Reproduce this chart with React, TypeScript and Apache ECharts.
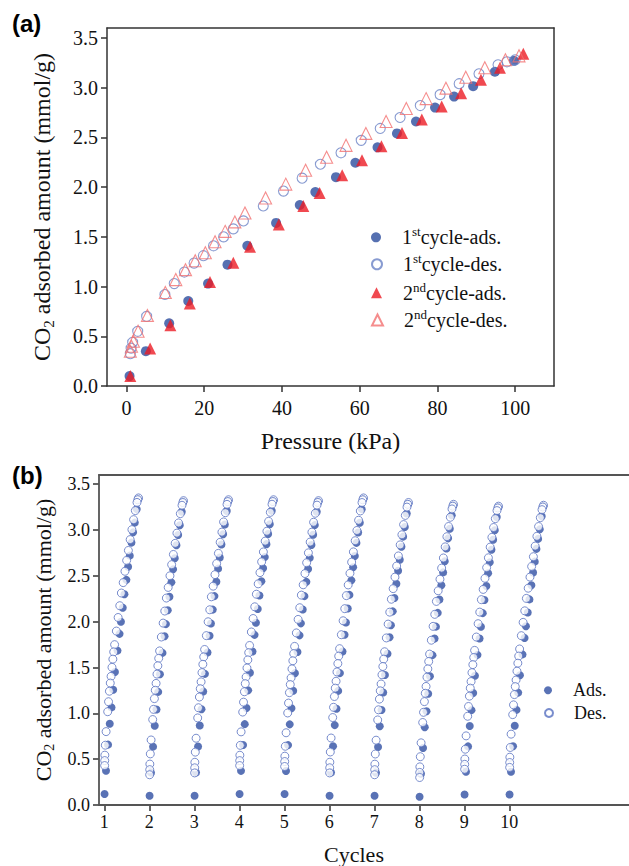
import React, { useEffect, useRef } from "react";
import * as echarts from "echarts";

// ---------- Panel (a): CO2 isotherms ----------
const ads1Pressure = [0.8, 5.0, 11.0, 15.9, 21.0, 26.0, 31.1, 38.5, 44.6, 48.6, 53.9, 58.9, 64.6, 69.6, 74.5, 79.4, 84.3, 89.2, 94.8, 99.7];
const ads1Amount = [0.10, 0.35, 0.63, 0.855, 1.03, 1.22, 1.41, 1.64, 1.82, 1.95, 2.10, 2.245, 2.40, 2.54, 2.66, 2.80, 2.91, 3.015, 3.16, 3.27];

const des1Pressure = [100.0, 97.9, 95.6, 90.7, 85.6, 80.7, 75.6, 70.4, 65.3, 60.4, 55.2, 49.9, 45.2, 40.4, 35.2, 30.1, 27.5, 25.0, 22.4, 19.8, 17.4, 14.9, 12.3, 9.9, 5.2, 2.9, 1.6, 1.2, 1.0];
const des1Amount = [3.28, 3.26, 3.23, 3.14, 3.04, 2.93, 2.82, 2.70, 2.59, 2.47, 2.345, 2.23, 2.09, 1.96, 1.81, 1.66, 1.58, 1.50, 1.41, 1.31, 1.236, 1.146, 1.03, 0.92, 0.70, 0.55, 0.44, 0.38, 0.325];

const ads2Pressure = [1.0, 6.1, 11.3, 16.3, 21.5, 27.5, 31.8, 39.2, 45.5, 49.7, 55.5, 60.6, 65.6, 70.9, 76.0, 81.1, 86.1, 91.2, 96.1, 102.1];
const ads2Amount = [0.10, 0.376, 0.61, 0.83, 1.045, 1.24, 1.40, 1.625, 1.81, 1.94, 2.12, 2.27, 2.41, 2.545, 2.68, 2.81, 2.945, 3.08, 3.20, 3.34];

const des2Pressure = [101.0, 97.5, 92.2, 87.3, 82.2, 77.1, 72.0, 66.8, 61.6, 56.5, 51.5, 46.1, 41.0, 35.8, 30.5, 27.9, 25.4, 22.8, 20.3, 17.7, 15.2, 12.7, 10.0, 5.4, 3.0, 1.8, 1.3, 1.0];
const des2Amount = [3.32, 3.28, 3.20, 3.105, 2.995, 2.89, 2.79, 2.66, 2.54, 2.42, 2.30, 2.17, 2.03, 1.89, 1.74, 1.65, 1.555, 1.45, 1.34, 1.26, 1.17, 1.07, 0.94, 0.71, 0.55, 0.45, 0.40, 0.35];

const pressureTicks = [0, 20, 40, 60, 80, 100];
const amountTicks = [0, 0.5, 1.0, 1.5, 2.0, 2.5, 3.0, 3.5];

// ---------- Panel (b): 10 adsorption/desorption cycles ----------
const cycles = [1, 2, 3, 4, 5, 6, 7, 8, 9, 10];
// values read per cycle: highest (desorption start), first adsorption point, lowest desorption point
const cycleDesTop = [3.35, 3.32, 3.33, 3.33, 3.32, 3.35, 3.30, 3.28, 3.26, 3.27];
const cycleAdsFirst = [0.12, 0.10, 0.10, 0.12, 0.12, 0.10, 0.10, 0.09, 0.115, 0.115];
const cycleDesLow = [0.43, 0.33, 0.35, 0.43, 0.42, 0.35, 0.33, 0.30, 0.39, 0.41];
const cycleWidthPerKPa = 0.0076; // fraction of one cycle spanned per kPa of pressure

const BLUE = "#2C4C9E";
const BLUE_OPEN = "#6A82C6";
const RED = "#EC1C24";
const RED_OPEN = "#F27070";
const B_BLUE = "#2F4FA2";
const B_OPEN = "#5870C0";
const SERIF = "Liberation Serif";
const INK = "#111111";

const zip = (xs: number[], ys: number[]) => xs.map((x, i) => [x, ys[i]]);

function cycleAdsPoints(): number[][] {
  const out: number[][] = [];
  const a0 = ads1Amount[0];
  const aMax = des1Amount[0];
  cycles.forEach((c, ci) => {
    const first = cycleAdsFirst[ci];
    const top = cycleDesTop[ci];
    ads1Pressure.forEach((p, i) => {
      out.push([c + p * cycleWidthPerKPa, first + ((ads1Amount[i] - a0) * (top - first)) / (aMax - a0)]);
    });
  });
  return out;
}

function cycleDesPoints(): number[][] {
  const out: number[][] = [];
  const dMin = des1Amount[des1Amount.length - 1];
  const dMax = des1Amount[0];
  cycles.forEach((c, ci) => {
    const low = cycleDesLow[ci];
    const top = cycleDesTop[ci];
    des1Pressure.forEach((p, i) => {
      out.push([c + p * cycleWidthPerKPa, low + ((des1Amount[i] - dMin) * (top - low)) / (dMax - dMin)]);
    });
  });
  return out;
}

const legendRich = {
  n: { fontSize: 20, fontFamily: SERIF, color: INK, lineHeight: 24 },
  s: { fontSize: 13, fontFamily: SERIF, color: INK, verticalAlign: "top" },
};

const legendLabels: Record<string, string> = {
  "1stcycle-ads.": "{n|1}{s|st}{n|cycle-ads.}",
  "1stcycle-des.": "{n|1}{s|st}{n|cycle-des.}",
  "2ndcycle-ads.": "{n|2}{s|nd}{n|cycle-ads.}",
  "2ndcycle-des.": "{n|2}{s|nd}{n|cycle-des.}",
  "Ads.": "{m|Ads.}",
  "Des.": "{m|Des.}",
};

const axisLineStyleA = { color: "#333", width: 1.5 };
const axisLineStyleB = { color: "#555", width: 1.8 };

const yName = "{a|CO}{b|2}{a| adsorbed amount (mmol/g)}";

function serifLabel(size: number, digits: number | null) {
  return {
    fontSize: size,
    color: INK,
    fontFamily: SERIF,
    formatter: (v: number) => `{t|${digits === null ? String(v) : v.toFixed(digits)}}`,
    rich: { t: { fontSize: size, color: INK, fontFamily: SERIF } },
  };
}

function buildOption() {
  const legendA = ["1stcycle-ads.", "1stcycle-des.", "2ndcycle-ads.", "2ndcycle-des."];
  const legendRowsA = [237.3, 264.3, 292.7, 320];
  const legends: any[] = legendA.map((name, i) => ({
    data: [name],
    orient: "vertical",
    left: 371,
    top: legendRowsA[i] - 12,
    padding: 0,
    itemWidth: i < 2 ? 10 : 11,
    itemHeight: i < 2 ? 10 : 11,
    selectedMode: false,
    formatter: (n: string) => legendLabels[n],
    textStyle: { fontFamily: SERIF, fontSize: 20, color: INK, padding: [0, 0, 0, 16], rich: legendRich },
  }));
  const legendB = ["Ads.", "Des."];
  const legendRowsB = [692.3, 715];
  legendB.forEach((name, i) => {
    legends.push({
      data: [name],
      orient: "vertical",
      left: 544,
      top: legendRowsB[i] - 11,
      padding: 0,
      itemWidth: 8,
      itemHeight: 8,
      selectedMode: false,
      formatter: (n: string) => legendLabels[n],
      textStyle: {
        fontFamily: SERIF, fontSize: 18, color: INK, padding: [0, 0, 0, 16],
        rich: { m: { fontFamily: SERIF, fontSize: 18, color: INK, lineHeight: 22 } },
      },
    });
  });

  return {
    animation: false,
    backgroundColor: "#ffffff",
    textStyle: { fontFamily: SERIF },
    grid: [
      { left: 107, top: 28, width: 447, height: 358 },
      { left: 99, top: 475, right: 0, height: 332 },
    ],
    legend: legends,
    graphic: [
      { type: "text", left: 12, top: 11, style: { text: "(a)", fontFamily: "Liberation Sans", fontWeight: "bold", fontSize: 24, fill: "#000" } },
      { type: "text", left: 12, top: 463, style: { text: "(b)", fontFamily: "Liberation Sans", fontWeight: "bold", fontSize: 24, fill: "#000" } },
    ],
    xAxis: [
      {
        gridIndex: 0, type: "value", min: -5, max: 110, position: "bottom",
        axisLine: { onZero: false, lineStyle: axisLineStyleA },
        axisTick: { length: 6, customValues: pressureTicks, lineStyle: axisLineStyleA },
        axisLabel: { customValues: pressureTicks, margin: 12, ...serifLabel(20, null) },
        splitLine: { show: false },
        name: "{p|Pressure (kPa)}", nameLocation: "middle", nameGap: 43,
        nameTextStyle: { fontSize: 24, color: INK, fontFamily: SERIF, rich: { p: { fontSize: 24, color: INK, fontFamily: SERIF } } },
      },
      {
        gridIndex: 0, type: "value", min: -5, max: 110, position: "top",
        axisLine: { onZero: false, lineStyle: axisLineStyleA },
        axisTick: { show: false }, axisLabel: { show: false }, splitLine: { show: false },
      },
      {
        gridIndex: 1, type: "value", min: 0.882, max: 12.66, position: "bottom",
        axisLine: { onZero: false, lineStyle: axisLineStyleB },
        axisTick: { length: 6, customValues: cycles, lineStyle: axisLineStyleB },
        axisLabel: { customValues: cycles, margin: 8, ...serifLabel(18, null) },
        splitLine: { show: false },
        name: "{p|Cycles}", nameLocation: "middle", nameGap: 38,
        nameTextStyle: {
          fontSize: 22, color: INK, fontFamily: SERIF, padding: [0, 20, 0, 0],
          rich: { p: { fontSize: 22, color: INK, fontFamily: SERIF } },
        },
      },
      {
        gridIndex: 1, type: "value", min: 0.882, max: 12.66, position: "top",
        axisLine: { onZero: false, lineStyle: axisLineStyleB },
        axisTick: { show: false }, axisLabel: { show: false }, splitLine: { show: false },
      },
    ],
    yAxis: [
      {
        gridIndex: 0, type: "value", min: 0, max: 3.6, position: "left",
        axisLine: { show: true, onZero: false, lineStyle: axisLineStyleA },
        axisTick: { show: true, length: 6, customValues: amountTicks, lineStyle: axisLineStyleA },
        axisLabel: { customValues: amountTicks, margin: 9, ...serifLabel(20, 1) },
        splitLine: { show: false },
        name: yName, nameLocation: "middle", nameGap: 51,
        nameTextStyle: {
          fontSize: 24, color: INK, fontFamily: SERIF,
          rich: {
            a: { fontSize: 24, fontFamily: SERIF, color: INK, lineHeight: 28 },
            b: { fontSize: 15, fontFamily: SERIF, color: INK, verticalAlign: "bottom" },
          },
        },
      },
      {
        gridIndex: 0, type: "value", min: 0, max: 3.6, position: "right",
        axisLine: { show: true, onZero: false, lineStyle: axisLineStyleA },
        axisTick: { show: false }, axisLabel: { show: false }, splitLine: { show: false },
      },
      {
        gridIndex: 1, type: "value", min: 0, max: 3.6, position: "left",
        axisLine: { show: true, onZero: false, lineStyle: axisLineStyleB },
        axisTick: { show: true, length: 6, customValues: amountTicks, lineStyle: axisLineStyleB },
        axisLabel: { customValues: amountTicks, margin: 9, ...serifLabel(18, 1) },
        splitLine: { show: false },
        name: yName, nameLocation: "middle", nameGap: 43,
        nameTextStyle: {
          fontSize: 22, color: INK, fontFamily: SERIF,
          rich: {
            a: { fontSize: 22, fontFamily: SERIF, color: INK, lineHeight: 26 },
            b: { fontSize: 14, fontFamily: SERIF, color: INK, verticalAlign: "bottom" },
          },
        },
      },
    ],
    series: [
      {
        type: "scatter", name: "1stcycle-ads.", xAxisIndex: 0, yAxisIndex: 0,
        symbol: "circle", symbolSize: 10, itemStyle: { color: BLUE },
        data: zip(ads1Pressure, ads1Amount),
      },
      {
        type: "scatter", name: "1stcycle-des.", xAxisIndex: 0, yAxisIndex: 0,
        symbol: "circle", symbolSize: 10,
        itemStyle: { color: "rgba(255,255,255,0)", borderColor: BLUE_OPEN, borderWidth: 1.1 },
        data: zip(des1Pressure, des1Amount),
      },
      {
        type: "scatter", name: "2ndcycle-ads.", xAxisIndex: 0, yAxisIndex: 0,
        symbol: "triangle", symbolSize: 12, itemStyle: { color: RED },
        data: zip(ads2Pressure, ads2Amount),
      },
      {
        type: "scatter", name: "2ndcycle-des.", xAxisIndex: 0, yAxisIndex: 0,
        symbol: "triangle", symbolSize: 12,
        itemStyle: { color: "rgba(255,255,255,0)", borderColor: RED_OPEN, borderWidth: 1.1 },
        data: zip(des2Pressure, des2Amount),
      },
      {
        type: "scatter", name: "Ads.", xAxisIndex: 2, yAxisIndex: 2,
        symbol: "circle", symbolSize: 8, itemStyle: { color: B_BLUE },
        data: cycleAdsPoints(),
      },
      {
        type: "scatter", name: "Des.", xAxisIndex: 2, yAxisIndex: 2,
        symbol: "circle", symbolSize: 8,
        itemStyle: { color: "#ffffff", borderColor: B_OPEN, borderWidth: 1 },
        data: cycleDesPoints(),
      },
    ],
  };
}

export default function App() {
  const ref = useRef<HTMLDivElement>(null);
  useEffect(() => {
    if (!ref.current) return;
    const chart = echarts.init(ref.current, null, { renderer: "svg" });
    chart.setOption(buildOption() as any);
    return () => chart.dispose();
  }, []);
  return (
    <div
      ref={ref}
      style={{ position: "absolute", left: 0, top: 0, width: 629, height: 866, background: "#fff" }}
    />
  );
}
